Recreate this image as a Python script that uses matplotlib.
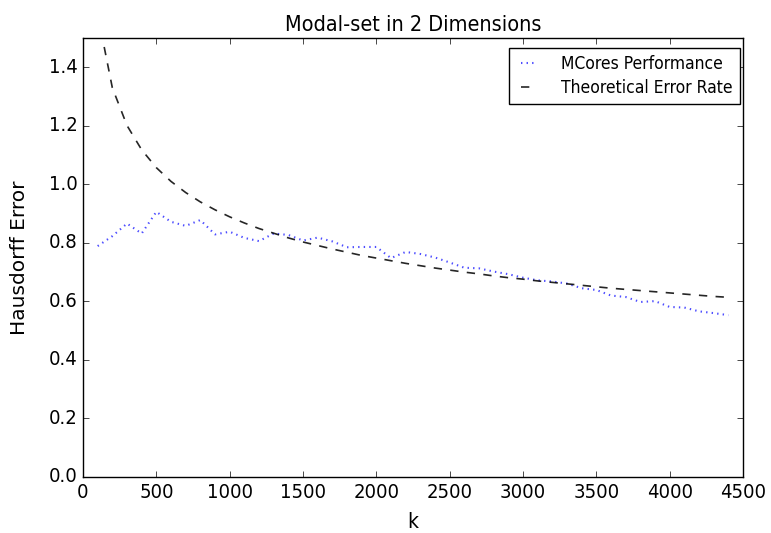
import matplotlib
matplotlib.use("Agg")
import matplotlib.pyplot as plt

plt.style.use('classic')
plt.rcParams['font.family'] = ['DejaVu Sans']
plt.rcParams['font.stretch'] = 'condensed'

# sample sizes
k = [100, 200, 300, 400, 500, 600, 700, 800, 900, 1000,
     1100, 1200, 1300, 1400, 1500, 1600, 1700, 1800, 1900, 2000,
     2100, 2200, 2300, 2400, 2500, 2600, 2700, 2800, 2900, 3000,
     3100, 3200, 3300, 3400, 3500, 3600, 3700, 3800, 3900, 4000,
     4100, 4200, 4300, 4400]

# MCores Hausdorff error
mcores = [0.789, 0.823, 0.866, 0.832, 0.906, 0.872, 0.858, 0.878, 0.829, 0.838,
          0.817, 0.806, 0.832, 0.827, 0.808, 0.818, 0.805, 0.785, 0.786, 0.786,
          0.748, 0.769, 0.762, 0.750, 0.733, 0.715, 0.713, 0.702, 0.693, 0.681,
          0.672, 0.668, 0.661, 0.645, 0.639, 0.620, 0.615, 0.598, 0.601, 0.581,
          0.579, 0.566, 0.560, 0.553]

# theoretical rate curve
theory = [1.581, 1.330, 1.201, 1.118, 1.057, 1.010, 0.972, 0.940, 0.913, 0.889,
          0.868, 0.849, 0.833, 0.817, 0.803, 0.791, 0.779, 0.768, 0.757, 0.748,
          0.739, 0.730, 0.722, 0.714, 0.707, 0.700, 0.694, 0.687, 0.681, 0.676,
          0.670, 0.665, 0.660, 0.655, 0.650, 0.645, 0.641, 0.637, 0.633, 0.629,
          0.625, 0.621, 0.617, 0.614]

fig = plt.figure(figsize=(7.71, 5.33), dpi=100)
ax = fig.add_axes([83/771, 1 - 477/533, 660/771, 439/533])

ax.plot(k, mcores, color='b', linestyle=':', linewidth=1.5, alpha=0.7, label='MCores Performance')
ax.plot(k, theory, color='k', linestyle='--', linewidth=1.2, alpha=0.85, label='Theoretical Error Rate')

ax.set_xlim(0, 4500)
ax.set_ylim(0, 1.5)
ax.set_xticks(range(0, 4501, 500))
ax.set_yticks([0.0, 0.2, 0.4, 0.6, 0.8, 1.0, 1.2, 1.4])
ax.tick_params(labelsize=14.5)

ax.set_title('Modal-set in 2 Dimensions', fontsize=15.5)
ax.set_xlabel('k', fontsize=15)
ax.set_ylabel('Hausdorff Error', fontsize=14.5, fontstretch='normal')
ax.yaxis.set_label_coords(-0.082, 0.5)
ax.xaxis.set_label_coords(0.5, -0.08)

ax.legend(loc='upper right', handlelength=1.4, handletextpad=1.2,
          borderaxespad=0.2, labelspacing=0.35,
          bbox_to_anchor=(1.0, 0.985),
          prop={'family': 'DejaVu Sans', 'stretch': 'condensed', 'size': 12.5})

fig.savefig('out.png', dpi=100)
